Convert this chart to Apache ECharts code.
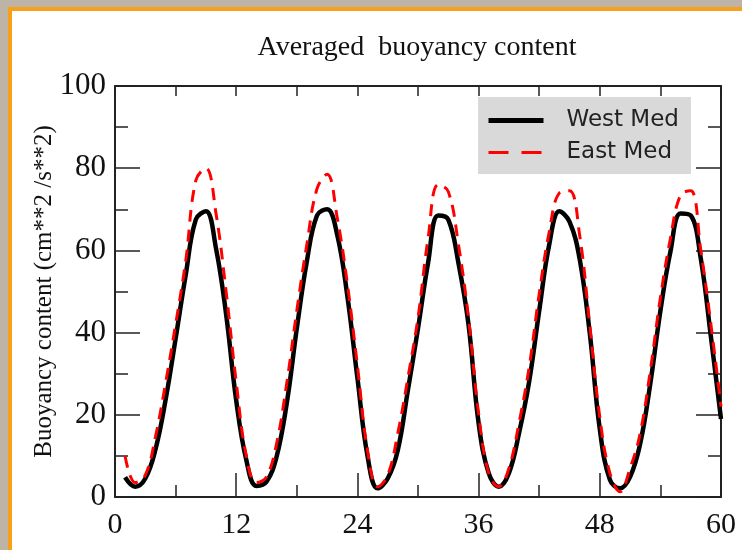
<!DOCTYPE html>
<html><head><meta charset="utf-8">
<script src="https://cdn.jsdelivr.net/npm/echarts@6/dist/echarts.min.js"></script>
<style>
html,body{margin:0;padding:0;width:742px;height:550px;overflow:hidden;background:#bdb4a7;}
#frame{position:absolute;left:8px;top:7px;width:760px;height:560px;border-left:4px solid #f7a11b;border-top:4px solid #f7a11b;background:#ffffff;}
#chart{position:absolute;left:0;top:0;width:742px;height:550px;}
</style></head><body><div id="frame"></div><div id="chart"></div>
<script>
const titleText = 'Averaged  buoyancy content';
const yAxisName = 'Buoyancy content (cm**2 /s**2)';
const seriesNames = ['West Med', 'East Med'];
const months = [1,2,3,4,5,6,7,8,9,10,11,12,13,14,15,16,17,18,19,20,21,22,23,24,25,26,27,28,29,30,
                31,32,33,34,35,36,37,38,39,40,41,42,43,44,45,46,47,48,49,50,51,52,53,54,55,56,57,58,59,60];
const westMed = [4.8,2.5,4.5,11.5,23.5,38.5,54,67.5,69.5,60.5,
                 44.5,23.5,9,2.7,3.7,9.8,22.7,41,57.4,68.5,
                 70,63.8,49,29,10,2.1,4.5,11.4,26,41,
                 57,68.5,67.5,57,42,18,5.8,2.5,5.8,15.5,
                 28,45.3,61.5,69.5,67,58,40,16.5,4.2,2.1,
                 4.9,13,27.6,45.3,59.8,69,68.5,58,39,19];
const eastMed = [10,3.5,5.3,14.6,27.6,42,57.4,77,80,69,
                 50,28,10,3.5,4.9,13,27.6,45.3,61.5,75,
                 78.5,68,52,32,11.4,2.5,5.3,15.5,29,43.6,
                 63,76,74.3,61.5,43.6,20.3,5.8,2.5,7,18,
                 31.5,49.4,64.6,74,74.5,63.8,42,19.4,5.8,1.3,
                 7,15.5,30.7,48.5,63,73.5,74.5,60,42,22];
const xTickValues = [0,12,24,36,48,60];
const xTickLabels = ['0','12','24','36','48','60'];
const yTickValues = [0,20,40,60,80,100];
const yTickLabels = ['0','20','40','60','80','100'];

const serif = 'Liberation Serif';
const axisColor = '#222';
const chart = echarts.init(document.getElementById('chart'), null, {renderer:'canvas'});
const westData = months.map((m,i)=>[m, westMed[i]]);
const eastData = months.map((m,i)=>[m, eastMed[i]]);
const hiddenSymbol = {color:'transparent', borderWidth:0, opacity:0};

const option = {
  animation:false,
  backgroundColor:'transparent',
  title:{text:titleText, left:417, top:34, textAlign:'center', padding:0,
    textStyle:{fontFamily:serif, fontSize:28, fontWeight:'normal', color:'#111'}},
  grid:{left:115, right:21, top:86, bottom:53, containLabel:false},
  legend:{orient:'vertical', left:478, top:97, backgroundColor:'#d9d9d9', borderRadius:0,
    padding:[12,12,10,8], itemWidth:55, itemHeight:14, itemGap:9,
    textStyle:{fontFamily:'DejaVu Sans', fontSize:23, color:'#222', padding:[0,0,0,18]},
    data:[
      {name:seriesNames[0], itemStyle:hiddenSymbol, lineStyle:{color:'#000', width:5, type:'solid'}},
      {name:seriesNames[1], itemStyle:hiddenSymbol, lineStyle:{color:'#ff0000', width:3, type:[20,13]}}
    ]},
  xAxis:[{
    type:'value', min:0, max:60, interval:12, position:'bottom',
    axisLine:{show:true, onZero:false, lineStyle:{color:axisColor, width:2}},
    axisTick:{show:true, inside:true, length:24, lineStyle:{color:axisColor, width:1.5}},
    minorTick:{show:true, splitNumber:2, length:12, lineStyle:{color:axisColor, width:1.5}},
    splitLine:{show:false}, minorSplitLine:{show:false},
    axisLabel:{fontFamily:serif, fontSize:30, color:'#111', margin:13,
      formatter:v=>{const k=xTickValues.indexOf(v); return k<0?'':xTickLabels[k];}}
  },{
    type:'value', min:0, max:60, interval:6, position:'top',
    axisLine:{show:true, onZero:false, lineStyle:{color:axisColor, width:2}},
    axisTick:{show:true, inside:true, length:10, lineStyle:{color:axisColor, width:1.5}},
    splitLine:{show:false}, axisLabel:{show:false}
  }],
  yAxis:[{
    type:'value', min:0, max:100, interval:20, position:'left',
    name:yAxisName, nameLocation:'middle', nameGap:58, nameRotate:90, nameMoveOverlap:false,
    nameTextStyle:{fontFamily:serif, fontSize:25, color:'#111'},
    axisLine:{show:true, onZero:false, lineStyle:{color:axisColor, width:2}},
    axisTick:{show:true, inside:true, length:25, lineStyle:{color:axisColor, width:1.5}},
    minorTick:{show:true, splitNumber:2, length:13, lineStyle:{color:axisColor, width:1.5}},
    splitLine:{show:false}, minorSplitLine:{show:false},
    axisLabel:{fontFamily:serif, fontSize:31, color:'#111', margin:9,
      formatter:v=>{const k=yTickValues.indexOf(v); return k<0?'':yTickLabels[k];}}
  },{
    type:'value', min:0, max:100, interval:20, position:'right',
    axisLine:{show:true, onZero:false, lineStyle:{color:axisColor, width:2}},
    axisTick:{show:true, inside:true, length:25, lineStyle:{color:axisColor, width:1.5}},
    minorTick:{show:true, splitNumber:2, length:13, lineStyle:{color:axisColor, width:1.5}},
    splitLine:{show:false}, minorSplitLine:{show:false},
    axisLabel:{show:false}
  }],
  series:[
    {name:seriesNames[0], type:'line', xAxisIndex:0, yAxisIndex:0, data:westData,
     symbol:'none', showSymbol:false, smooth:0.4,
     lineStyle:{color:'#000', width:4.5}, itemStyle:{color:'#000'}, z:2},
    {name:seriesNames[1], type:'line', xAxisIndex:0, yAxisIndex:0, data:eastData,
     symbol:'none', showSymbol:false, smooth:0.4,
     lineStyle:{color:'#ff0000', width:3, type:[12,8]}, itemStyle:{color:'#ff0000'}, z:3}
  ]
};
chart.setOption(option);
</script></body></html>
